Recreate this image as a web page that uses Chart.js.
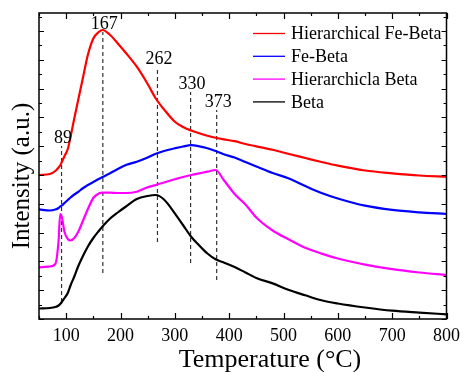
<!DOCTYPE html>
<html>
<head>
<meta charset="utf-8">
<script src="https://cdn.jsdelivr.net/npm/chart.js@4/dist/chart.umd.min.js"></script>
<style>
  html, body { margin: 0; padding: 0; background: #fff; }
  #wrap { width: 466px; height: 372px; }
</style>
</head>
<body>
<div id="wrap"><canvas id="chart" width="466" height="372"></canvas></div>
<script>
const temps = [50, 70, 80, 86, 89, 92, 97, 103, 108, 115, 122, 130, 140, 150, 160, 167, 180, 195, 210, 230, 250, 265, 280, 300, 315, 330, 345, 360, 375, 390, 410, 430, 450, 480, 510, 540, 570, 600, 650, 700, 750, 800];

const hierFeBeta = [144, 145, 148, 151.5, 153.5, 157, 163, 170, 182, 200.7, 218.7, 239, 264.2, 280.5, 287, 289, 284.5, 275.5, 266, 252.3, 235, 220.5, 209.6, 197.3, 192, 188.5, 185.7, 183.3, 181.2, 179.7, 177.8, 175, 172.7, 169.2, 165, 161, 157, 153.3, 148.5, 145.7, 143.5, 142.3];
const feBeta = [109.7, 108.5, 109.5, 111, 112.5, 113.5, 116, 119, 121.5, 124.5, 127, 130.5, 134, 137, 140, 142, 145.5, 150, 154, 157.3, 161.5, 165.3, 168, 170.7, 172.5, 173.8, 172.7, 170.7, 168, 164.7, 161.5, 157, 152.5, 146, 140.5, 133, 126, 120.5, 113.3, 109.1, 106.7, 105];
const hierBeta = [51.7, 52.5, 55, 78, 105, 102, 87, 80, 78.5, 81, 87, 97, 110, 121, 125.5, 126.3, 126.3, 126, 126, 127.3, 131.8, 134, 136.5, 139.7, 142, 144, 145.7, 147.3, 149, 139, 125, 114.5, 101.5, 88.5, 79.5, 71.2, 65.4, 60.5, 54.4, 49.8, 46.5, 44];
const beta = [10.5, 11, 12, 13.5, 15, 17, 21, 26, 33.5, 42.5, 52.5, 62, 72.5, 81, 88, 92.5, 100, 106.5, 112.5, 120, 123, 124, 119.5, 105.7, 94, 82.3, 73.5, 65.5, 59.7, 56.5, 52, 46.5, 41, 35.6, 29, 23.7, 18.7, 15.5, 11.5, 8.3, 6.4, 4.7];

const seriesNames = ["Hierarchical Fe-Beta", "Fe-Beta", "Hierarchicla Beta", "Beta"];
const seriesColors = ["#ff0000", "#0000ff", "#ff00ff", "#000000"];

const peakLabels = ["89", "167", "262", "330", "373"];
const peakTemps = [91.5, 167.5, 268, 329, 377];
const peakTops = [173, 287, 252, 227, 209];
const peakBottoms = [17, 46, 77, 56, 39];

const xTicks = [100, 200, 300, 400, 500, 600, 700, 800];

const serif = "'Liberation Serif', 'Times New Roman', serif";

const toPoints = (vals) => temps.map((t, i) => ({ x: t, y: vals[i] }));

const curves = [hierFeBeta, feBeta, hierBeta, beta].map((vals, i) => ({
  label: seriesNames[i],
  data: toPoints(vals),
  borderColor: seriesColors[i],
  borderWidth: 2.2,
  pointRadius: 0,
  cubicInterpolationMode: "monotone",
}));

const peakLines = peakTemps.map((t, i) => ({
  label: "peak " + peakLabels[i],
  data: [{ x: t, y: peakBottoms[i] }, { x: t, y: peakTops[i] }],
  borderColor: "#333",
  borderWidth: 1.2,
  borderDash: [4, 3],
  pointRadius: 0,
}));

// frame, inward ticks, legend, peak labels, axis titles
const decor = {
  id: "decor",
  afterDraw(c) {
    const ctx = c.ctx;
    const a = c.chartArea;
    const xs = c.scales.x;
    const ys = c.scales.y;
    ctx.save();
    ctx.strokeStyle = "#000";
    ctx.lineWidth = 1.5;
    ctx.strokeRect(a.left, a.top, a.right - a.left, a.bottom - a.top);

    ctx.lineWidth = 1.2;
    ctx.beginPath();
    for (let t = 50; t <= 800; t += 50) {
      const px = Math.round(xs.getPixelForValue(t)) + 0.5;
      const len = t % 100 === 0 ? 6 : 3;
      ctx.moveTo(px, a.bottom); ctx.lineTo(px, a.bottom - len);
      ctx.moveTo(px, a.top); ctx.lineTo(px, a.top + len);
    }
    for (let k = 0; k * 14.4 <= 306; k++) {
      const py = Math.round(ys.getPixelForValue(k * 14.4)) + 0.5;
      const len = k % 2 === 0 ? 5 : 3;
      ctx.moveTo(a.left, py); ctx.lineTo(a.left + len, py);
      ctx.moveTo(a.right, py); ctx.lineTo(a.right - len, py);
    }
    ctx.stroke();

    // peak labels
    ctx.fillStyle = "#000";
    ctx.font = "18px " + serif;
    ctx.textAlign = "center";
    ctx.textBaseline = "alphabetic";
    peakLabels.forEach((lab, i) => {
      const px = xs.getPixelForValue(peakTemps[i]) + 1.5;
      const py = ys.getPixelForValue(peakTops[i]) - 3;
      ctx.fillText(lab, px, py);
    });

    // legend
    ctx.font = "18px " + serif;
    ctx.textAlign = "left";
    ctx.textBaseline = "middle";
    seriesNames.forEach((name, i) => {
      const y = 33.5 + i * 22.8;
      ctx.strokeStyle = seriesColors[i];
      ctx.lineWidth = 1.3;
      ctx.beginPath();
      ctx.moveTo(253, y); ctx.lineTo(285, y);
      ctx.stroke();
      ctx.fillText(name, 291, y + 1);
    });

    // x title
    ctx.font = "26px " + serif;
    ctx.textAlign = "center";
    ctx.textBaseline = "middle";
    ctx.fillText("Temperature (°C)", 270, 360);

    // y title
    ctx.font = "25px " + serif;
    ctx.translate(22, 176);
    ctx.rotate(-Math.PI / 2);
    ctx.fillText("Intensity (a.u.)", 0, 0);
    ctx.restore();
  },
};

new Chart(document.querySelector("#chart").getContext("2d"), {
  type: "line",
  data: { datasets: [...curves, ...peakLines] },
  options: {
    responsive: false,
    animation: false,
    layout: { padding: { top: 13, right: 14, left: 0, bottom: 0 } },
    plugins: { legend: { display: false }, tooltip: { enabled: false } },
    scales: {
      x: {
        type: "linear",
        min: 50,
        max: 800,
        grid: { display: false, drawTicks: false },
        border: { display: false },
        afterBuildTicks: (s) => { s.ticks = xTicks.map((v) => ({ value: v })); },
        afterFit: (s) => { s.height = 53; },
        ticks: { color: "#000", padding: 6, maxRotation: 0, font: { family: serif, size: 18 } },
      },
      y: {
        min: 0,
        max: 306,
        grid: { display: false, drawTicks: false },
        border: { display: false },
        ticks: { display: false },
        afterFit: (s) => { s.width = 39; },
      },
    },
  },
  plugins: [decor],
});
</script>
</body>
</html>
